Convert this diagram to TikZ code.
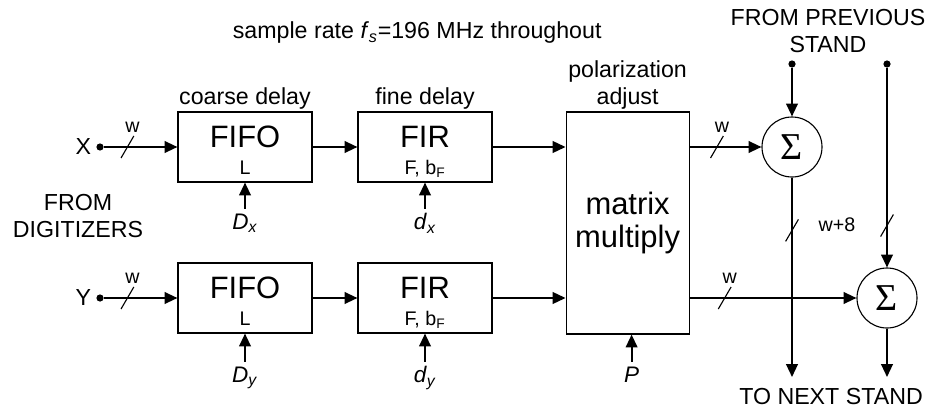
\documentclass[tikz,border=0pt]{standalone}
\usepackage{fontspec}
\setmainfont{Liberation Sans}
\newfontfamily\sigmafont{Liberation Serif}
\usetikzlibrary{arrows.meta,positioning,calc}

\tikzset{
  block/.style={draw, line width=0.8pt, minimum width=3.35cm, minimum height=1.75cm, inner sep=0pt},
  sumnode/.style={draw, circle, line width=0.8pt, minimum size=1.5cm, inner sep=0pt, font=\sigmafont\fontsize{27}{29}\selectfont},
  sig/.style={line width=1.3pt, -{Triangle[length=3.2mm,width=2.9mm]}},
  dot/.style={circle, fill, inner sep=0pt, minimum size=1.8mm},
  boxtitle/.style={font=\fontsize{22}{24}\selectfont, anchor=base, yshift=0.875cm, inner sep=0pt},
  param/.style={font=\fontsize{14}{16}\selectfont, anchor=base, yshift=0.2cm, inner sep=0pt},
  topnote/.style={inner sep=1pt},
  ctrl/.style={font=\fontsize{16}{18}\selectfont},
  busslash/.pic={\draw[-, line width=0.8pt] (-0.16,-0.275) -- (0.16,0.275);},
  wslash/.pic={\draw[-, line width=0.8pt] (-0.16,-0.275) -- (0.16,0.275);
    \node[font=\fontsize{14}{16}\selectfont, inner sep=0pt] at (0.125,0.5) {#1};},
}

\begin{document}
\begin{tikzpicture}[font=\fontsize{16.5}{19.5}\selectfont]
  \useasboundingbox (0,0) rectangle (23.35,-10.275);

  \node (rate) at (10.43,-0.825) {sample rate \textit{f}\textsubscript{\textit{s}}=196 MHz throughout};

  % inputs from the digitizers
  \node[dot, label={left:X}] (inX) at (2.5,-3.675) {};
  \node[dot, label={left:Y}] (inY) at (2.5,-7.45) {};
  \node[align=center] (digi) at (1.95,-5.4) {FROM\\DIGITIZERS};

  % coarse delay
  \node[block, label={[boxtitle]south:FIFO}, label={[param]south:L},
        label={[topnote]north:coarse delay}] (fifoX) at (6.125,-3.675) {};
  \node[block, label={[boxtitle]south:FIFO}, label={[param]south:L}] (fifoY) at (6.125,-7.45) {};

  % fine delay
  \node[block, label={[boxtitle]south:FIR}, label={[param]south:F, b\textsubscript{F}},
        label={[topnote]north:fine delay}] (firX) at (10.625,-3.675) {};
  \node[block, label={[boxtitle]south:FIR}, label={[param]south:F, b\textsubscript{F}}] (firY) at (10.625,-7.45) {};

  % polarization adjust
  \node[block, minimum width=3.075cm, minimum height=5.55cm, align=center,
        font=\fontsize{22}{24}\selectfont,
        label={[topnote, align=center, font=\fontsize{16.5}{19.5}\selectfont]north:polarization\\adjust}]
        (mat) at (15.69,-5.575) {matrix\\multiply};

  % control inputs
  \node[ctrl, below=0.65cm of fifoX] (Dx) {\textit{D}\textsubscript{\textit{x}}};
  \node[ctrl, below=0.7cm of fifoY] (Dy) {\textit{D}\textsubscript{\textit{y}}};
  \node[ctrl, below=0.65cm of firX] (dx) {\textit{d}\textsubscript{\textit{x}}};
  \node[ctrl, below=0.7cm of firY] (dy) {\textit{d}\textsubscript{\textit{y}}};
  \node[ctrl, below=0.68cm of mat, xshift=0.1cm] (P) {\textit{P}};

  % summing with the other stands
  \node[sumnode] (sum1) at (19.8,-3.675) {Σ};
  \node[sumnode] (sum2) at (22.175,-7.45) {Σ};
  \node[dot] (prev1) at (19.8,-1.6) {};
  \node[dot] (prev2) at (22.175,-1.6) {};
  \coordinate (next1) at (19.8,-9.425);
  \coordinate (next2) at (22.175,-9.425);
  \node[align=center] (from) at (20.7,-0.775) {FROM PREVIOUS\\STAND};
  \node (to) at (20.775,-9.925) {TO NEXT STAND};
  \node[font=\fontsize{14}{16}\selectfont] (wide) at (20.925,-5.625) {w+8};

  % signal flow
  \draw[sig] (inX) -- pic[pos=0.32]{wslash=w} (fifoX);
  \draw[sig] (inY) -- pic[pos=0.32]{wslash=w} (fifoY);
  \draw[sig] (fifoX) -- (firX);
  \draw[sig] (fifoY) -- (firY);
  \draw[sig] (firX) -- (mat.west |- firX);
  \draw[sig] (firY) -- (mat.west |- firY);
  \draw[sig] (mat.east |- sum1) -- pic[pos=0.38]{wslash=w} (sum1);
  \draw[sig] (mat.east |- sum2) -- pic[pos=0.21]{wslash=w} (sum2);
  \draw[sig] (prev1) -- (sum1);
  \draw[sig] (prev2) -- pic[pos=0.79]{busslash} (sum2);
  \draw[sig] (sum1) -- pic[pos=0.265]{busslash} (next1);
  \draw[sig] (sum2) -- (next2);

  \draw[sig] (Dx) -- (fifoX);
  \draw[sig] (Dy) -- (fifoY);
  \draw[sig] (dx) -- (firX);
  \draw[sig] (dy) -- (firY);
  \draw[sig] (P) -- (P |- mat.south);
\end{tikzpicture}
\end{document}
